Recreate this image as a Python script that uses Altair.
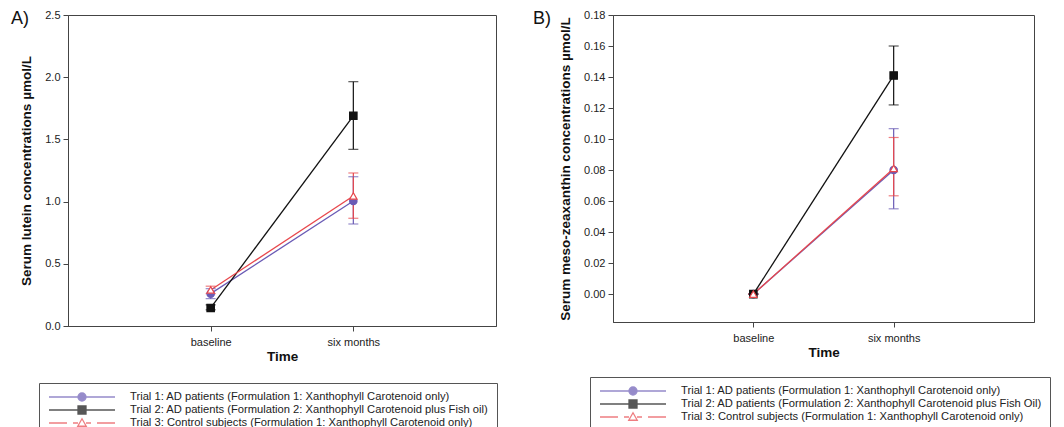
import altair as alt
import pandas as pd

times = ["baseline", "six months"]
panel_letters = ["A)", "B)"]

series_a = [
    "Trial 1: AD patients (Formulation 1: Xanthophyll Carotenoid only)",
    "Trial 2: AD patients (Formulation 2: Xanthophyll Carotenoid plus Fish oil)",
    "Trial 3: Control subjects (Formulation 1: Xanthophyll Carotenoid only)",
]
series_b = [
    "Trial 1: AD patients (Formulation 1: Xanthophyll Carotenoid only)",
    "Trial 2: AD patients (Formulation 2: Xanthophyll Carotenoid plus Fish Oil)",
    "Trial 3: Control subjects (Formulation 1: Xanthophyll Carotenoid only)",
]

# Panel A: serum lutein (umol/L), [baseline, six months]
lutein_mean = [[0.26, 1.005], [0.145, 1.69], [0.29, 1.045]]
lutein_low = [[0.22, 0.82], [0.13, 1.42], [0.26, 0.866]]
lutein_high = [[0.30, 1.20], [0.17, 1.964], [0.32, 1.23]]

# Panel B: serum meso-zeaxanthin (umol/L)
mz_mean = [[0.0, 0.080], [0.0, 0.141], [0.0, 0.081]]
mz_low = [[0.0, 0.055], [0.0, 0.122], [0.0, 0.0634]]
mz_high = [[0.0, 0.1067], [0.0, 0.160], [0.0, 0.101]]

ticks_a = [0.0, 0.5, 1.0, 1.5, 2.0, 2.5]
ticks_b = [0.0, 0.02, 0.04, 0.06, 0.08, 0.10, 0.12, 0.14, 0.16, 0.18]

PURPLE = "#6a5bb5"
BLACK = "#111111"
RED = "#e8474c"
line_colors = [PURPLE, BLACK, RED]
fill_colors = [PURPLE, BLACK, "white"]
point_shapes = ["circle", "square", "triangle-up"]
legend_paths = [
    "M-6.6,0H6.6M-0.8,0A0.8,0.8,0,1,0,0.8,0A0.8,0.8,0,1,0,-0.8,0Z",
    "M-6.6,0H6.6M-0.8,-0.8H0.8V0.8H-0.8Z",
    "M-6.6,0H-3.0M-1.8,0H-0.8M0.8,0H1.8M3.0,0H6.6M-0.85,0.65L0,-0.85L0.85,0.65Z",
]
FONT = "Liberation Sans"


def panel(series, mean, low, high, ytitle, ydomain, yticks, yfmt,
          letter, letter_dx, letter_dy, legx, legy, w, h):
    rows = []
    for i, s in enumerate(series):
        for j, t in enumerate(times):
            rows.append({"series": s, "time": t, "mean": mean[i][j],
                         "low": low[i][j], "high": high[i][j]})
    df = pd.DataFrame(rows)
    base = alt.Chart(df)

    x = alt.X("time:N", scale=alt.Scale(type="point", domain=times, padding=1),
              axis=alt.Axis(labelAngle=0, labelPadding=5, titlePadding=2),
              title="Time")
    yscale = alt.Scale(domain=ydomain, nice=False, zero=False)
    yaxis = alt.Axis(values=yticks, format=yfmt, labelPadding=3, titlePadding=11)

    def Y(field):
        return alt.Y(field + ":Q", scale=yscale, axis=yaxis, title=ytitle)

    col = alt.Color("series:N", scale=alt.Scale(domain=series, range=line_colors), legend=None)

    lines = base.mark_line(strokeWidth=1.3).encode(x=x, y=Y("mean"), color=col)
    bars = base.mark_rule(strokeWidth=1.2).encode(x=x, y=Y("low"), y2="high:Q", color=col)
    cap_lo = base.mark_tick(size=10, thickness=1.2).encode(x=x, y=Y("low"), color=col)
    cap_hi = base.mark_tick(size=10, thickness=1.2).encode(x=x, y=Y("high"), color=col)

    pts = base.mark_point(size=55, strokeWidth=1.2, opacity=1).encode(
        x=x, y=Y("mean"),
        shape=alt.Shape("series:N", scale=alt.Scale(domain=series, range=point_shapes), legend=None),
        fill=alt.Fill("series:N", scale=alt.Scale(domain=series, range=fill_colors), legend=None),
        stroke=alt.Stroke("series:N", scale=alt.Scale(domain=series, range=line_colors), legend=None),
    )

    leg = alt.Legend(
        orient="none", legendX=legx, legendY=legy, direction="vertical", title=None,
        strokeColor="#555", fillColor="white", padding=8,
        symbolSize=100, symbolOffset=29, labelOffset=42, symbolStrokeWidth=1.3,
        symbolFillColor="white", symbolStrokeColor="black",
        labelFont=FONT, labelFontSize=11.2, labelColor="#222", labelLimit=800,
        rowPadding=-3,
    )
    legend_layer = base.transform_filter("false").mark_point().encode(
        x=x, y=Y("mean"),
        shape=alt.Shape("series:N", scale=alt.Scale(domain=series, range=legend_paths), legend=leg),
        fill=alt.Fill("series:N", scale=alt.Scale(domain=series, range=fill_colors), legend=leg),
        stroke=alt.Stroke("series:N", scale=alt.Scale(domain=series, range=line_colors), legend=leg),
    )

    # panel letter (annotation, placed relative to the plot's top-left corner)
    letter_layer = alt.Chart(pd.DataFrame({"letter": [letter]})).mark_text(
        align="left", baseline="top", fontSize=18, font=FONT, color="#111",
    ).encode(text="letter:N", x=alt.value(letter_dx), y=alt.value(letter_dy))

    return alt.layer(lines, bars, cap_lo, cap_hi, pts, legend_layer, letter_layer).resolve_scale(
        shape="independent", fill="independent", stroke="independent"
    ).properties(width=w, height=h)


pa = panel(series_a, lutein_mean, lutein_low, lutein_high,
           "Serum lutein concentrations µmol/L", [0, 2.5], ticks_a, ".1f",
           panel_letters[0], -57, -5.3, -29, 368, 428, 311)
pb = panel(series_b, mz_mean, mz_low, mz_high,
           "Serum meso-zeaxanthin concentrations µmol/L", [-0.018, 0.18], ticks_b, ".2f",
           panel_letters[1], -80, -5.3, -23, 362, 421, 307)

chart = alt.hconcat(alt.vconcat(pa), alt.vconcat(pb), spacing=34).resolve_scale(
    color="independent", fill="independent", stroke="independent", shape="independent"
).resolve_legend(
    fill="independent", stroke="independent", shape="independent"
).properties(
    padding={"left": 2, "top": 0, "right": 0, "bottom": 0}
).configure_view(stroke="#444", strokeWidth=1).configure_axis(
    domainColor="#444", tickColor="#444", labelColor="#222", labelFont=FONT,
    labelFontSize=11, titleFont=FONT, titleFontSize=13.5, titleFontWeight="bold",
    titleColor="#111", grid=False, tickSize=5, domainWidth=1,
)

chart.save("out.html", embed_options={"renderer": "svg", "actions": False})
